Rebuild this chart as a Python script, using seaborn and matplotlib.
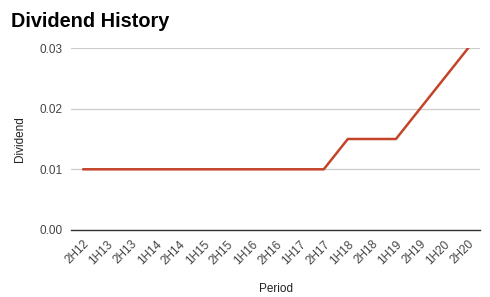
import matplotlib
matplotlib.use("Agg")
import matplotlib.pyplot as plt
import seaborn as sns
import pandas as pd

periods = ["2H12", "1H13", "2H13", "1H14", "2H14", "1H15", "2H15", "1H16", "2H16",
           "1H17", "2H17", "1H18", "2H18", "1H19", "2H19", "1H20", "2H20"]
dividends = [0.01, 0.01, 0.01, 0.01, 0.01, 0.01, 0.01, 0.01, 0.01,
             0.01, 0.01, 0.015, 0.015, 0.015, 0.02, 0.025, 0.03]
y_ticks = [0.0, 0.01, 0.02, 0.03]

sns.set_style("white")
plt.rcParams['font.family'] = ['Liberation Sans', 'DejaVu Sans']

df = pd.DataFrame({"Period": periods, "Dividend": dividends})
df["idx"] = range(len(periods))

fig = plt.figure(figsize=(4.9, 2.97), dpi=100)
ax = fig.add_axes([0.145, 0.226, 0.835, 0.612])
sns.lineplot(data=df, x="idx", y="Dividend", ax=ax, color="#c4442a", linewidth=1.8)

ax.set_xlim(-0.5, len(periods) - 0.5)
ax.set_ylim(0, 0.03)
ax.set_yticks(y_ticks)
ax.set_yticklabels([f"{v:.2f}" for v in y_ticks], fontsize=8.5, color="#444444")
ax.set_xticks(df["idx"])
ax.set_xticklabels(periods, rotation=45, ha="right", rotation_mode="anchor",
                   fontsize=8.5, color="#444444")
ax.grid(axis="y", color="#cccccc", linewidth=0.9)
ax.set_axisbelow(True)
for s in ["left", "right", "top"]:
    ax.spines[s].set_visible(False)
ax.spines["bottom"].set_color("#333333")
ax.spines["bottom"].set_linewidth(1.0)
ax.tick_params(length=0, pad=6)
ax.set_xlabel("Period", fontsize=8.5, color="#222222", labelpad=12)
ax.set_ylabel("Dividend", fontsize=8.5, color="#222222", labelpad=10)

fig.text(0.022, 0.928, "Dividend History", fontsize=14.3, fontweight="bold",
         va="center", ha="left", color="black")

fig.savefig("out.png", dpi=100)
